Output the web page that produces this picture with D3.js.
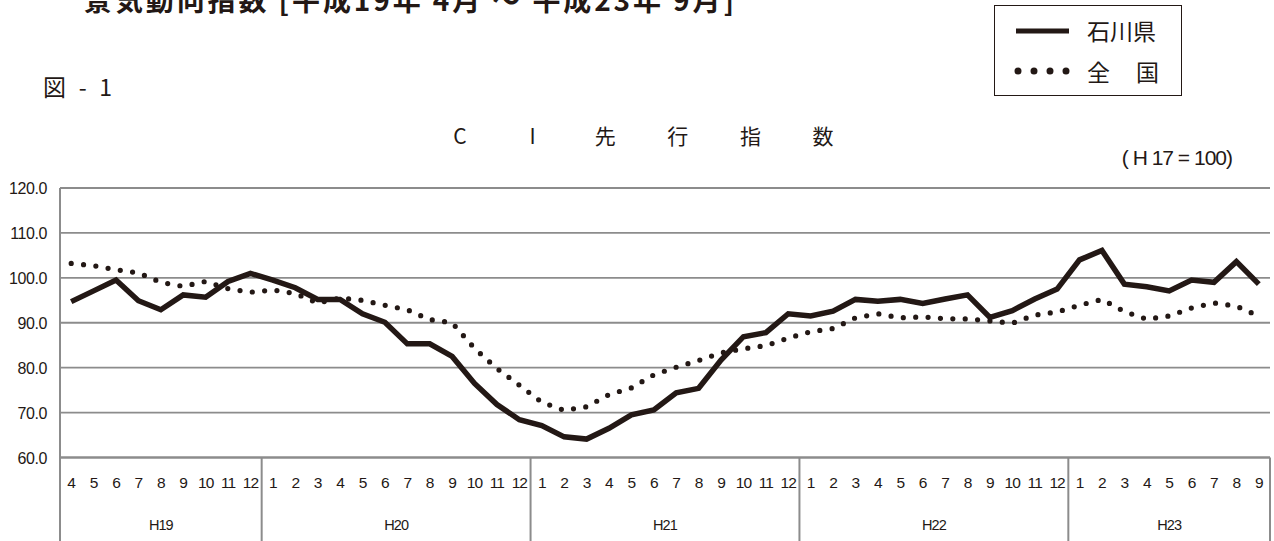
<!DOCTYPE html>
<html lang="ja">
<head>
<meta charset="utf-8">
<title>CI先行指数</title>
<script src="https://cdn.jsdelivr.net/npm/d3@7"></script>
<style>
  body { margin: 0; background: #fff; }
  svg { display: block; }
  .jp { font-family: "Noto Sans CJK JP", sans-serif; fill: #231815; }
  .num { font-family: "Liberation Sans", Arial, sans-serif; fill: #231815; }
</style>
</head>
<body>
<script>
// years and the months shown for each
var years = ["H19", "H20", "H21", "H22", "H23"];
var yearMonths = [
  [4, 5, 6, 7, 8, 9, 10, 11, 12],
  [1, 2, 3, 4, 5, 6, 7, 8, 9, 10, 11, 12],
  [1, 2, 3, 4, 5, 6, 7, 8, 9, 10, 11, 12],
  [1, 2, 3, 4, 5, 6, 7, 8, 9, 10, 11, 12],
  [1, 2, 3, 4, 5, 6, 7, 8, 9]
];

// 石川県 (solid)
var ishikawa = [
  94.7, 97.1, 99.5, 94.9, 92.9, 96.2, 95.7, 99.2, 101.0,
  99.5, 97.8, 95.2, 95.2, 92.0, 90.1, 85.3, 85.3, 82.5, 76.5, 71.8, 68.4,
  67.1, 64.6, 64.1, 66.5, 69.5, 70.6, 74.4, 75.4, 81.7, 86.9, 87.8, 92.0,
  91.5, 92.6, 95.2, 94.8, 95.2, 94.3, 95.3, 96.2, 91.2, 92.7, 95.3, 97.5,
  104.0, 106.1, 98.6, 98.0, 97.1, 99.5, 99.0, 103.6, 98.6
];

// 全国 (dotted)
var zenkoku = [
  103.2, 102.7, 101.8, 101.1, 99.0, 98.1, 99.2, 97.6, 96.8,
  97.3, 96.5, 94.4, 95.5, 95.0, 93.9, 92.9, 90.7, 90.0, 84.3, 79.8, 76.1,
  72.3, 70.5, 71.3, 74.0, 75.5, 78.4, 80.1, 81.6, 83.3, 84.2, 84.9, 86.6,
  88.0, 88.7, 91.1, 92.0, 91.1, 91.3, 90.9, 90.85, 90.4, 89.9, 91.7, 92.4,
  93.9, 95.2, 92.5, 90.8, 91.5, 93.3, 94.4, 93.7, 91.5
];

var yTicks = [60, 70, 80, 90, 100, 110, 120];

var w = 1274, h = 541;
var plotL = 60, plotR = 1270, plotT = 188, plotB = 457.5;

var svg = d3.select("body").append("svg")
  .attr("width", w)
  .attr("height", h);

// flat list of month slots
var slots = [];
years.forEach(function(yr, yi) {
  yearMonths[yi].forEach(function(m) { slots.push({ year: yr, month: m }); });
});

var x = d3.scaleBand()
  .domain(d3.range(slots.length))
  .range([plotL, plotR])
  .padding(0);

var y = d3.scaleLinear()
  .domain([60, 120])
  .range([plotB, plotT]);

var gridColor = "#8c8c8c";

// horizontal grid lines
svg.append("g").selectAll("line")
  .data(yTicks)
  .enter().append("line")
  .attr("x1", plotL).attr("x2", plotR)
  .attr("y1", function(d) { return y(d); })
  .attr("y2", function(d) { return y(d); })
  .attr("stroke", gridColor)
  .attr("stroke-width", function(d) { return d === 60 ? 2.5 : 1.8; });

// y labels
svg.append("g").selectAll("text")
  .data(yTicks)
  .enter().append("text")
  .attr("class", "num")
  .attr("x", 47)
  .attr("y", function(d) { return y(d) + 6; })
  .attr("text-anchor", "end")
  .attr("font-size", 16)
  .attr("letter-spacing", -0.4)
  .text(function(d) { return d.toFixed(1); });

// left edge line, running down through the category table
svg.append("line")
  .attr("x1", plotL).attr("x2", plotL)
  .attr("y1", plotT).attr("y2", h)
  .attr("stroke", gridColor).attr("stroke-width", 2);

// year boundaries
var bounds = [];
var acc = 0;
yearMonths.forEach(function(ms) { acc += ms.length; bounds.push(acc); });

svg.append("g").selectAll("line")
  .data(bounds)
  .enter().append("line")
  .attr("x1", function(d) { return d < slots.length ? x(d) : plotR; })
  .attr("x2", function(d) { return d < slots.length ? x(d) : plotR; })
  .attr("y1", plotB).attr("y2", h)
  .attr("stroke", gridColor).attr("stroke-width", 2);

// month labels
svg.append("g").selectAll("text")
  .data(slots)
  .enter().append("text")
  .attr("class", "num")
  .attr("x", function(d, i) { return x(i) + x.bandwidth() / 2; })
  .attr("y", 488)
  .attr("text-anchor", "middle")
  .attr("font-size", 15.5)
  .attr("letter-spacing", -0.9)
  .text(function(d) { return d.month; });

// year labels
var starts = [0].concat(bounds.slice(0, -1));
svg.append("g").selectAll("text")
  .data(years)
  .enter().append("text")
  .attr("class", "num")
  .attr("x", function(d, i) {
    var a = x(starts[i]);
    var b = bounds[i] < slots.length ? x(bounds[i]) : plotR;
    return (a + b) / 2;
  })
  .attr("y", 530)
  .attr("text-anchor", "middle")
  .attr("font-size", 14.5)
  .attr("letter-spacing", -0.9)
  .text(function(d) { return d; });

// lines
var line = d3.line()
  .x(function(d, i) { return x(i) + x.bandwidth() / 2; })
  .y(function(d) { return y(d); });

svg.append("path")
  .datum(zenkoku)
  .attr("d", line)
  .attr("fill", "none")
  .attr("stroke", "#231815")
  .attr("stroke-width", 5.2)
  .attr("stroke-linecap", "round")
  .attr("stroke-dasharray", "0,12.4");

svg.append("path")
  .datum(ishikawa)
  .attr("d", line)
  .attr("fill", "none")
  .attr("stroke", "#231815")
  .attr("stroke-width", 5.5)
  .attr("stroke-linejoin", "miter");

// titles
svg.append("text")
  .attr("class", "jp")
  .attr("x", 84).attr("y", 11)
  .attr("font-size", 28)
  .attr("font-weight", "bold")
  .attr("textLength", 650)
  .attr("lengthAdjust", "spacing")
  .text("景気動向指数 [平成19年 4月 ～ 平成23年 9月]");

svg.append("text")
  .attr("class", "jp")
  .attr("x", 43).attr("y", 96)
  .attr("font-size", 23)
  .attr("textLength", 69)
  .attr("lengthAdjust", "spacing")
  .text("図 - 1");

var ciChars = ["C", "I", "先", "行", "指", "数"];
svg.append("g").selectAll("text")
  .data(ciChars)
  .enter().append("text")
  .attr("class", "jp")
  .attr("x", function(d, i) { return 460 + i * 72.6; })
  .attr("y", 144)
  .attr("text-anchor", "middle")
  .attr("font-size", 21)
  .text(function(d) { return d; });

svg.append("text")
  .attr("class", "num")
  .attr("x", 1232).attr("y", 165)
  .attr("text-anchor", "end")
  .attr("font-size", 21)
  .attr("letter-spacing", -1)
  .text("( H 17 = 100)");

// legend
var lg = svg.append("g");
lg.append("rect")
  .attr("x", 994.5).attr("y", 5.5)
  .attr("width", 187).attr("height", 90)
  .attr("fill", "none")
  .attr("stroke", "#231815")
  .attr("stroke-width", 1);
lg.append("line")
  .attr("x1", 1016).attr("x2", 1069)
  .attr("y1", 31).attr("y2", 31)
  .attr("stroke", "#231815").attr("stroke-width", 5);
lg.append("line")
  .attr("x1", 1018).attr("x2", 1070)
  .attr("y1", 71).attr("y2", 71)
  .attr("stroke", "#231815").attr("stroke-width", 7)
  .attr("stroke-linecap", "round")
  .attr("stroke-dasharray", "0,16");
lg.append("text")
  .attr("class", "jp")
  .attr("x", 1087).attr("y", 40)
  .attr("font-size", 23)
  .text("石川県");
lg.append("text")
  .attr("class", "jp")
  .attr("x", 1087).attr("y", 81)
  .attr("font-size", 23)
  .text("全");
lg.append("text")
  .attr("class", "jp")
  .attr("x", 1136).attr("y", 81)
  .attr("font-size", 23)
  .text("国");
</script>
</body>
</html>
